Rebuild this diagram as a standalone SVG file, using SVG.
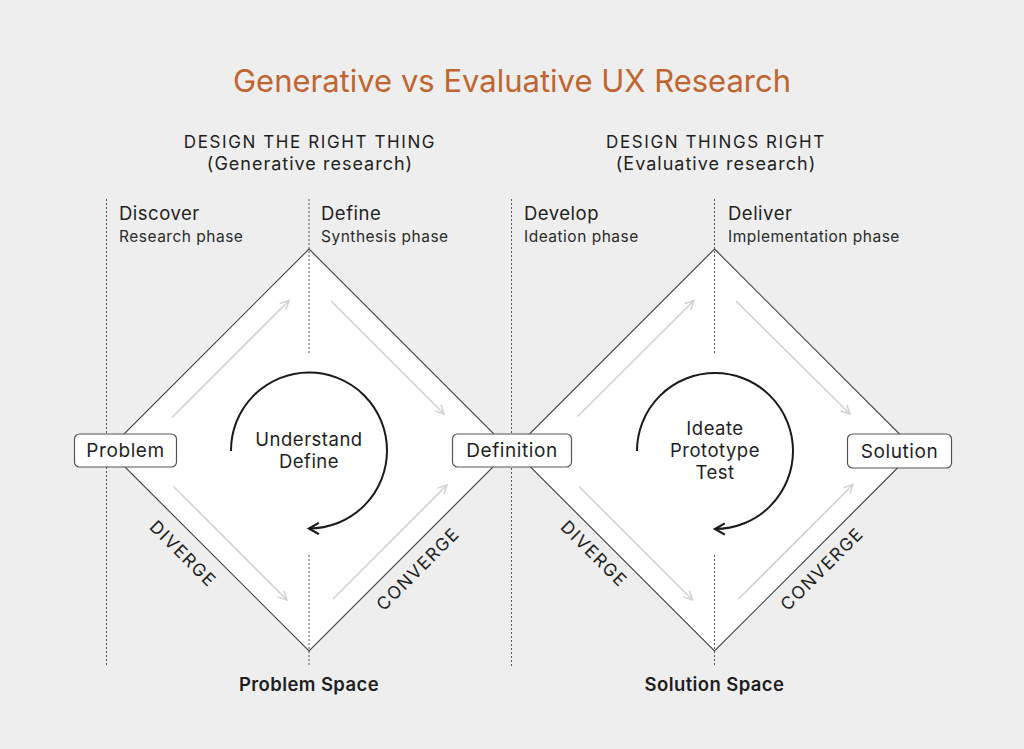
<svg xmlns="http://www.w3.org/2000/svg" width="1024" height="749" viewBox="0 0 1024 749">
<defs>
<style>
.t{font-family:Inter,"Liberation Sans",sans-serif;fill:#1e1e1e}
.title{font-size:31px;fill:#c0652f;text-anchor:middle}
.hd{font-size:17px;letter-spacing:1.6px;text-anchor:middle}
.sub{font-size:18px;letter-spacing:1px;text-anchor:middle;fill:#222}
.ph{font-size:18.5px;letter-spacing:0.5px}
.phs{font-size:15.5px;letter-spacing:0.5px;fill:#2a2a2a}
.lbl{font-size:19px;letter-spacing:0.6px;text-anchor:middle}
.cyc{font-size:18.5px;letter-spacing:0.5px;text-anchor:middle}
.side{font-size:17.5px;letter-spacing:1.5px;text-anchor:middle}
.space{font-size:18.5px;letter-spacing:0.4px;font-weight:600;text-anchor:middle}
.dia{fill:#ffffff;stroke:#4a4a4a;stroke-width:1.2}
.dot{stroke:#555;stroke-width:1;stroke-dasharray:2 2;fill:none}
.box{fill:#ffffff;stroke:#555;stroke-width:1.2}
.ga{stroke:#d2d2d2;stroke-width:1.6;fill:none;marker-end:url(#ga)}
.cyca{stroke:#1a1a1a;stroke-width:2;fill:none;marker-end:url(#ca)}
</style>
<marker id="ga" viewBox="0 0 10 10" refX="9" refY="5" markerWidth="11" markerHeight="11" markerUnits="userSpaceOnUse" orient="auto">
<path d="M1,1 L9,5 L1,9" fill="none" stroke="#d2d2d2" stroke-width="1.4"/>
</marker>
<marker id="ca" viewBox="0 0 10 10" refX="8" refY="5" markerWidth="14" markerHeight="14" markerUnits="userSpaceOnUse" orient="auto">
<path d="M1,1 L8,5 L1,9" fill="none" stroke="#1a1a1a" stroke-width="1.6"/>
</marker>
</defs>
<rect x="0" y="0" width="1024" height="749" fill="#eeeeee"/>

<text class="t title" x="512" y="92">Generative vs Evaluative UX Research</text>
<text class="t hd" x="310" y="148">DESIGN THE RIGHT THING</text>
<text class="t sub" x="310" y="170">(Generative research)</text>
<text class="t hd" x="716" y="148">DESIGN THINGS RIGHT</text>
<text class="t sub" x="716" y="170">(Evaluative research)</text>

<g id="diamond-problem">
<polygon class="dia" points="309,249 510,450 309,651 108,450"/>
</g>
<g id="diamond-solution">
<polygon class="dia" points="714.5,249 915.5,450 714.5,651 513.5,450"/>
</g>

<g id="dividers">
<line class="dot" x1="106.5" y1="199" x2="106.5" y2="667"/>
<line class="dot" x1="309" y1="199" x2="309" y2="353"/>
<line class="dot" x1="309" y1="555" x2="309" y2="667"/>
<line class="dot" x1="511.5" y1="199" x2="511.5" y2="434"/>
<line class="dot" x1="511.5" y1="468" x2="511.5" y2="667"/>
<line class="dot" x1="714.5" y1="199" x2="714.5" y2="353"/>
<line class="dot" x1="714.5" y1="555" x2="714.5" y2="667"/>
</g>

<g id="phase-discover">
<text class="t ph" x="119" y="220">Discover</text>
<text class="t phs" x="119" y="242">Research phase</text>
</g>
<g id="phase-define">
<text class="t ph" x="321" y="220">Define</text>
<text class="t phs" x="321" y="242">Synthesis phase</text>
</g>
<g id="phase-develop">
<text class="t ph" x="524" y="220">Develop</text>
<text class="t phs" x="524" y="242">Ideation phase</text>
</g>
<g id="phase-deliver">
<text class="t ph" x="728" y="220">Deliver</text>
<text class="t phs" x="728" y="242">Implementation phase</text>
</g>

<g id="connectors">
<line class="ga" x1="172" y1="417.5" x2="289" y2="300.5"/>
<line class="ga" x1="331" y1="301" x2="444" y2="414"/>
<line class="ga" x1="173.5" y1="486.5" x2="287" y2="600"/>
<line class="ga" x1="333" y1="599" x2="447" y2="485"/>
<line class="ga" x1="577.5" y1="416.5" x2="694" y2="300.5"/>
<line class="ga" x1="736" y1="301" x2="850" y2="414"/>
<line class="ga" x1="579" y1="486.5" x2="692.5" y2="600"/>
<line class="ga" x1="738.5" y1="599" x2="853" y2="484.5"/>
<path class="cyca" d="M231,451 A78,78 0 1 1 309,528.5"/>
<path class="cyca" d="M637,451 A78,78 0 1 1 715,529"/>
</g>

<g id="node-problem">
<rect class="box" x="74.5" y="434" width="102" height="33" rx="5"/>
<text class="t lbl" x="125.5" y="457">Problem</text>
</g>
<g id="node-definition">
<rect class="box" x="452.5" y="434" width="119" height="33" rx="5"/>
<text class="t lbl" x="512" y="457">Definition</text>
</g>
<g id="node-solution">
<rect class="box" x="847.5" y="434" width="104" height="34" rx="5"/>
<text class="t lbl" x="899.5" y="457.5">Solution</text>
</g>

<g id="cycle-left">
<text class="t cyc" x="309" y="446">Understand</text>
<text class="t cyc" x="309" y="468">Define</text>
</g>
<g id="cycle-right">
<text class="t cyc" x="715" y="435">Ideate</text>
<text class="t cyc" x="715" y="457">Prototype</text>
<text class="t cyc" x="715" y="479">Test</text>
</g>

<g id="edge-labels">
<text class="t side" transform="translate(183,554) rotate(45)" y="6">DIVERGE</text>
<text class="t side" transform="translate(418,569) rotate(-45)" y="6">CONVERGE</text>
<text class="t side" transform="translate(594,554) rotate(45)" y="6">DIVERGE</text>
<text class="t side" transform="translate(822,569) rotate(-45)" y="6">CONVERGE</text>
</g>

<g id="space-labels">
<text class="t space" x="309" y="691">Problem Space</text>
<text class="t space" x="714.5" y="691">Solution Space</text>
</g>
</svg>
